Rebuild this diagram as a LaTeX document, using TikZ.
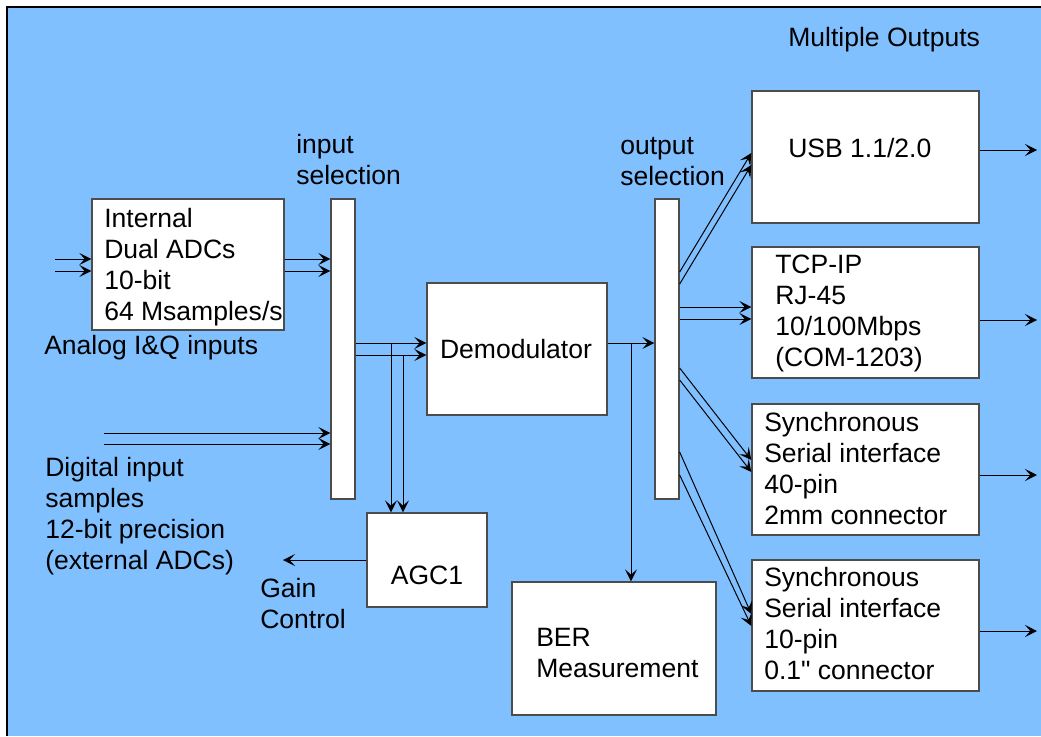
\documentclass[tikz,border=0pt]{standalone}
\usepackage{fontspec}
\setmainfont{Liberation Sans}[Ligatures=TeXOff]
\usetikzlibrary{arrows.meta,fit,calc}
\definecolor{bgblue}{RGB}{128,192,255}
\begin{document}
\begin{tikzpicture}[x=0.75pt,y=-0.75pt,
 box/.style={draw=black!70, line width=1pt, fill=white, inner sep=0pt},
 lbl/.style={font=\fontsize{19.9}{23.25}\selectfont, align=left, inner sep=0pt, anchor=west},
 arr/.style={-{Stealth[length=9pt,width=9pt,inset=4pt]}, line width=0.75pt},
 ln/.style={line width=0.75pt}]
\useasboundingbox (0,0) rectangle (1041,736);
\fill[bgblue] (7,7) rectangle (1041,736);
\draw[line width=1.5pt] (7,736) -- (7,7) -- (1041,7);
% boxes
\node[box, fit={(92,199) (284,330)}] (adc) {};
\node[box, fit={(331,199) (355,499)}] (isel) {};
\node[box, fit={(427,283) (607,415)}] (demod) {};
\node[box, fit={(367,513) (487,607)}] (agc) {};
\node[box, fit={(655,199) (679,499)}] (osel) {};
\node[box, fit={(512,582) (716,715)}] (ber) {};
\node[box, fit={(752,91) (979,223)}] (usb) {};
\node[box, fit={(752,247) (979,378)}] (tcp) {};
\node[box, fit={(752,404) (979,535)}] (sync1) {};
\node[box, fit={(752,560) (979,691)}] (sync2) {};
% texts
\node[lbl] (tmo) at (788,40) {Multiple Outputs};
\node[lbl] (tisel) at (296,160) {input\\selection};
\node[lbl] (tosel) at (620,162) {output\\selection};
\node[lbl] (tadc) at (104,267) {Internal\\Dual ADCs\\10-bit\\64 Msamples/s};
\node[lbl] (tanalog) at (44,348) {Analog I\&Q inputs};
\node[lbl] (tdig) at (45,516) {Digital input\\samples\\12-bit precision\\(external ADCs)};
\node[lbl, anchor=center] (tdemod) at (516,349) {Demodulator};
\node[lbl, anchor=center] (tagc) at (427,575) {AGC1};
\node[lbl] (tgain) at (260,604) {Gain\\Control};
\node[lbl] (tber) at (536,653) {BER\\Measurement};
\node[lbl] (tusb) at (788,148) {USB 1.1/2.0};
\node[lbl] (ttcp) at (775,313) {TCP-IP\\RJ-45\\10/100Mbps\\(COM-1203)};
\node[lbl] (ts1) at (764,469) {Synchronous\\Serial interface\\40-pin\\2mm connector};
\node[lbl] (ts2) at (764,624) {Synchronous\\Serial interface\\10-pin\\0.1" connector};
% coordinates
\coordinate (ain1) at (55,259);
\coordinate (ain2) at (55,271);
\coordinate (din1) at (104,433);
\coordinate (din2) at (104,444);
\coordinate (d1) at (0,343);
\coordinate (d2) at (0,355);
\coordinate (j1) at (391,343);
\coordinate (j2) at (403,355);
\coordinate (j3) at (631,343);
\coordinate (gc) at (283,560);
\coordinate (u1s) at (0,272); \coordinate (u1e) at (0,153);
\coordinate (u2s) at (0,284); \coordinate (u2e) at (0,165);
\coordinate (t1) at (0,307); \coordinate (t2) at (0,319);
\coordinate (s1s) at (0,368); \coordinate (s1e) at (0,460);
\coordinate (s2s) at (0,380); \coordinate (s2e) at (0,472);
\coordinate (r1s) at (0,452); \coordinate (r1e) at (0,614);
\coordinate (r2s) at (0,475); \coordinate (r2e) at (0,626);
\coordinate (out1) at (1037,150);
\coordinate (out2) at (1037,320);
\coordinate (out3) at (1037,475);
\coordinate (out4) at (1037,631);
% connectors
\draw[arr] (ain1) -- (adc.west |- ain1);
\draw[arr] (ain2) -- (adc.west |- ain2);
\draw[arr] (adc.east |- ain1) -- (isel.west |- ain1);
\draw[arr] (adc.east |- ain2) -- (isel.west |- ain2);
\draw[arr] (din1) -- (isel.west |- din1);
\draw[arr] (din2) -- (isel.west |- din2);
\draw[arr] (isel.east |- d1) -- (demod.west |- d1);
\draw[arr] (isel.east |- d2) -- (demod.west |- d2);
\draw[arr] (j1) -- (j1 |- agc.north);
\draw[arr] (j2) -- (j2 |- agc.north);
\draw[arr] (agc.west |- gc) -- (gc);
\draw[arr] (demod.east |- d1) -- (osel.west |- d1);
\draw[arr] (j3) -- (j3 |- ber.north);
\draw[arr] (osel.east |- u1s) -- (usb.west |- u1e);
\draw[arr] (osel.east |- u2s) -- (usb.west |- u2e);
\draw[arr] (osel.east |- t1) -- (tcp.west |- t1);
\draw[arr] (osel.east |- t2) -- (tcp.west |- t2);
\draw[arr] (osel.east |- s1s) -- (sync1.west |- s1e);
\draw[arr] (osel.east |- s2s) -- (sync1.west |- s2e);
\draw[arr] (osel.east |- r1s) -- (sync2.west |- r1e);
\draw[arr] (osel.east |- r2s) -- (sync2.west |- r2e);
\draw[arr] (usb.east |- out1) -- (out1);
\draw[arr] (tcp.east |- out2) -- (out2);
\draw[arr] (sync1.east |- out3) -- (out3);
\draw[arr] (sync2.east |- out4) -- (out4);
\end{tikzpicture}
\end{document}
